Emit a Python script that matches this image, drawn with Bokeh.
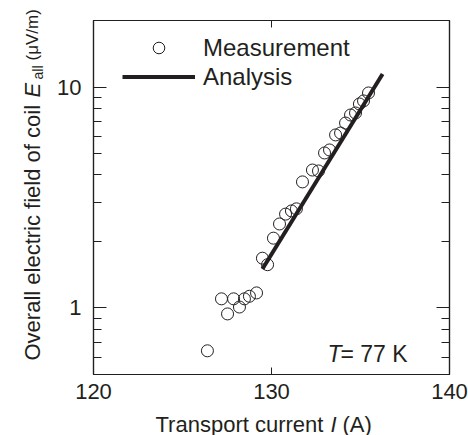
import math
from bokeh.plotting import figure
from bokeh.layouts import row, column
from bokeh.models import (Range1d, FixedTicker, LinearAxis, LogAxis, Legend,
                          LegendItem, Label, CustomJSTickFormatter,
                          BasicTickFormatter)
from bokeh.embed import file_html
from bokeh.resources import INLINE

# ---- data ----
current = [126.40, 127.19, 127.53, 127.87, 128.20, 128.48, 128.76, 129.16,
           129.49, 129.78, 130.11, 130.45, 130.79, 131.12, 131.40, 131.74,
           132.30, 132.64, 132.98, 133.26, 133.60, 133.88, 134.16, 134.44,
           134.72, 134.94, 135.17, 135.45]
field = [0.64, 1.10, 0.94, 1.10, 1.01, 1.10, 1.13, 1.17,
         1.68, 1.57, 2.07, 2.40, 2.66, 2.75, 2.81, 3.72,
         4.21, 4.17, 5.03, 5.19, 6.07, 6.19, 6.87, 7.47,
         7.63, 8.38, 8.65, 9.40]
analysis_current = [129.49, 136.24]
analysis_field = [1.50, 11.45]

x_ticks = [120, 130, 140]
y_ticks = [1, 10]
y_minor = [0.5, 0.6, 0.7, 0.8, 0.9, 2, 3, 4, 5, 6, 7, 8, 9, 20]

legend_labels = ["Measurement", "Analysis"]
temperature_text = ["T", "= 77 K"]
x_label_parts = ["Transport current", "I", "(A)"]
y_label_parts = ["Overall electric field of coil", "E", "all", "(\u03bcV/m)"]

FONT = "Liberation Sans"
INK = "#231F20"

# ---------------- main plot ----------------
p = figure(frame_width=356, frame_height=354,
           x_range=Range1d(120, 140), y_range=Range1d(0.5, 20),
           y_axis_type="log", output_backend="svg", toolbar_location=None,
           min_border_left=40, min_border_right=19, min_border_top=20,
           min_border_bottom=34)
p.title = None
p.grid.visible = False
p.outline_line_color = INK
p.outline_line_width = 1.2
p.background_fill_color = "white"
p.border_fill_color = "white"


def style_axis(ax, major_in, minor_in, show_labels, standoff):
    ax.axis_line_color = INK
    ax.axis_line_width = 1.2
    ax.major_tick_line_color = INK
    ax.minor_tick_line_color = INK
    ax.major_tick_in = major_in
    ax.major_tick_out = 0
    ax.minor_tick_in = minor_in
    ax.minor_tick_out = 0
    ax.axis_label = None
    ax.axis_label_standoff = 0
    ax.major_label_text_font = FONT
    ax.major_label_text_font_size = "22px"
    ax.major_label_text_color = INK
    ax.major_label_standoff = standoff
    if show_labels:
        ax.formatter = BasicTickFormatter()
    else:
        ax.formatter = CustomJSTickFormatter(code="return ''")


xax = p.xaxis[0]
xax.ticker = FixedTicker(ticks=x_ticks, minor_ticks=[])
style_axis(xax, 7, 0, True, 9)

yax = p.yaxis[0]
yax.ticker = FixedTicker(ticks=y_ticks, minor_ticks=y_minor)
style_axis(yax, 13, 8, True, 12)

top = LinearAxis(ticker=FixedTicker(ticks=x_ticks, minor_ticks=[]))
style_axis(top, 7, 0, False, 0)
p.add_layout(top, "above")

right = LogAxis(ticker=FixedTicker(ticks=y_ticks, minor_ticks=y_minor))
style_axis(right, 13, 8, False, 0)
p.add_layout(right, "right")

meas = p.scatter(current, field, marker="circle", size=12,
                 fill_color=None, line_color=INK, line_width=1)
ana = p.line(analysis_current, analysis_field, line_color=INK, line_width=4)

legend = Legend(items=[LegendItem(label=legend_labels[0], renderers=[meas]),
                       LegendItem(label=legend_labels[1], renderers=[ana])],
                location=(29, 283), padding=0, margin=0, spacing=0,
                glyph_width=73, glyph_height=29, label_height=29,
                label_standoff=8, label_text_font=FONT,
                label_text_font_size="24px", label_text_color=INK,
                border_line_color=None, background_fill_alpha=0)
p.add_layout(legend)


def lab(fig, x, y, text, size, style="normal", angle=0.0, baseline="alphabetic"):
    fig.add_layout(Label(x=x, y=y, x_units="screen", y_units="screen",
                         text=text, text_font=FONT, text_font_size=size,
                         text_font_style=style, text_color=INK,
                         text_align="left", text_baseline=baseline,
                         angle=angle))


lab(p, 234, 21, temperature_text[0], "23px", "italic")
lab(p, 247, 21, temperature_text[1], "23px")


def blank(w, h):
    f = figure(width=w, height=h, x_range=Range1d(0, 1), y_range=Range1d(0, 1),
               x_axis_type=None, y_axis_type=None, output_backend="svg",
               toolbar_location=None, min_border=0)
    f.title = None
    f.outline_line_color = None
    f.background_fill_color = "white"
    f.border_fill_color = "white"
    return f


# ---------------- y axis label panel ----------------
ylab = blank(53, 435)
a = math.pi / 2
lab(ylab, 32, 75, y_label_parts[0], "22px", angle=a)
lab(ylab, 32, 338, y_label_parts[1], "22px", "italic", angle=a)
lab(ylab, 37, 356, y_label_parts[2], "14px", angle=a)
lab(ylab, 32, 375, y_label_parts[3], "17px", angle=a)

# ---------------- x axis label panel ----------------
xlab = blank(415, 27)
lab(xlab, 62, 24, x_label_parts[0], "22px", baseline="top")
lab(xlab, 237, 24, x_label_parts[1], "22px", "italic", baseline="top")
lab(xlab, 249, 24, x_label_parts[2], "22px", baseline="top")

layout = row(ylab, column(p, xlab, spacing=0), spacing=0)

open("out.html", "w").write(file_html(layout, INLINE))
